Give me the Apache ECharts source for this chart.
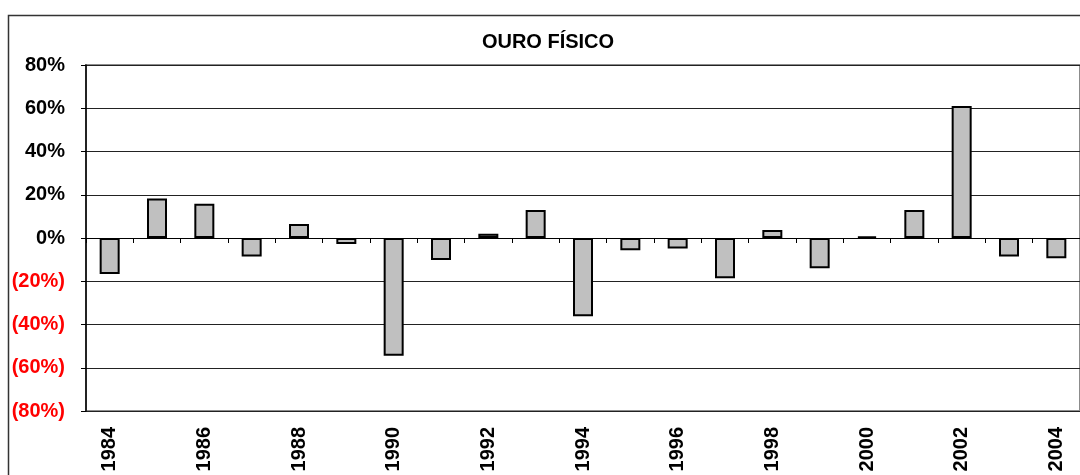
<!DOCTYPE html>
<html>
<head>
<meta charset="utf-8">
<title>OURO FÍSICO</title>
<script src="https://cdn.jsdelivr.net/npm/echarts@6/dist/echarts.min.js"></script>
<style>
  html, body { margin: 0; padding: 0; background: #fff; }
  #chart { width: 1080px; height: 475px; }
</style>
</head>
<body>
<div id="chart"></div>
<script>
// Annual returns of physical gold, in percent
const years = ['1984','1985','1986','1987','1988','1989','1990','1991','1992','1993','1994',
               '1995','1996','1997','1998','1999','2000','2001','2002','2003','2004'];
const returns = [-16.6, 18.3, 15.8, -8.5, 6.5, -2.8, -54.5, -10.2, 2.0, 12.9, -36.2,
                 -5.7, -4.8, -18.6, 3.7, -14.0, 0.8, 12.9, 61.0, -8.5, -9.4];
const titleText = 'OURO FÍSICO';

const font = '"Liberation Sans", Arial, sans-serif';

const chart = echarts.init(document.getElementById('chart'));

function pctLabel(v) {
  if (v < 0) return '{neg|(' + Math.abs(v) + '%)}';
  return '{pos|' + v + '%}';
}

chart.setOption({
  animation: false,
  backgroundColor: '#fff',
  title: {
    text: titleText,
    left: 548,
    textAlign: 'center',
    top: 32,
    padding: 0,
    textStyle: { fontFamily: font, fontWeight: 'bold', fontSize: 20, color: '#000' }
  },
  graphic: [{
    type: 'rect',
    silent: true,
    z: -1,
    shape: { x: 8.5, y: 15.5, width: 1200, height: 600 },
    style: { fill: 'none', stroke: '#333', lineWidth: 1.5 }
  }],
  grid: {
    left: 86,
    top: 65,
    width: 997.5,
    height: 346,
    show: true,
    borderColor: '#8c8c8c',
    borderWidth: 2,
    backgroundColor: 'transparent'
  },
  xAxis: [{
    type: 'category',
    data: years,
    position: 'bottom',
    axisLine: { show: false, onZero: false },
    axisTick: { show: false },
    axisLabel: {
      interval: 1,
      rotate: 90,
      margin: 16,
      fontFamily: font,
      fontWeight: 'bold',
      fontSize: 20,
      color: '#000'
    },
    splitLine: { show: false }
  }, {
    type: 'category',
    data: years,
    position: 'top',
    axisLine: { show: true, onZero: true, onZeroAxisIndex: 0, lineStyle: { color: '#000', width: 1 } },
    axisTick: { show: true, inside: true, length: 5, interval: 0, lineStyle: { color: '#000', width: 1 } },
    axisLabel: { show: false },
    splitLine: { show: false }
  }],
  yAxis: {
    type: 'value',
    min: -80,
    max: 80,
    interval: 20,
    axisLine: { show: true, lineStyle: { color: '#000', width: 1.5 } },
    axisTick: { show: true, length: 5, lineStyle: { color: '#000', width: 1 } },
    axisLabel: {
      margin: 21,
      formatter: pctLabel,
      rich: {
        pos: { fontFamily: font, fontWeight: 'bold', fontSize: 20, color: '#000' },
        neg: { fontFamily: font, fontWeight: 'bold', fontSize: 20, color: '#ff0000' }
      }
    },
    splitLine: { show: true, lineStyle: { color: '#222', width: 1 } }
  },
  series: [{
    type: 'bar',
    xAxisIndex: 0,
    data: returns,
    barWidth: 20,
    itemStyle: { color: '#c0c0c0', borderColor: '#000', borderWidth: 2 },
    z: 3
  }]
});
</script>
</body>
</html>
